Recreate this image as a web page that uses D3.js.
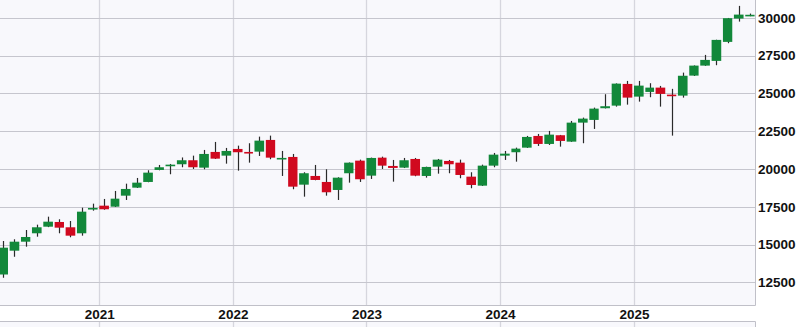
<!DOCTYPE html>
<html><head><meta charset="utf-8">
<script src="https://cdn.jsdelivr.net/npm/d3@7"></script>
<style>html,body{margin:0;padding:0;background:#fff;overflow:hidden}svg{display:block}</style>
</head><body>
<svg id="c" width="804" height="327"></svg>
<script>
const months = ["2020-04","2020-05","2020-06","2020-07","2020-08","2020-09","2020-10","2020-11","2020-12",
"2021-01","2021-02","2021-03","2021-04","2021-05","2021-06","2021-07","2021-08","2021-09","2021-10","2021-11","2021-12",
"2022-01","2022-02","2022-03","2022-04","2022-05","2022-06","2022-07","2022-08","2022-09","2022-10","2022-11","2022-12",
"2023-01","2023-02","2023-03","2023-04","2023-05","2023-06","2023-07","2023-08","2023-09","2023-10","2023-11","2023-12",
"2024-01","2024-02","2024-03","2024-04","2024-05","2024-06","2024-07","2024-08","2024-09","2024-10","2024-11","2024-12",
"2025-01","2025-02","2025-03","2025-04","2025-05","2025-06","2025-07","2025-08","2025-09","2025-10","2025-11"];
const open  = [13016,14592,15187,15743,16180,16491,16140,15743,17380,
17570,17504,18232,18762,19139,19933,20218,20310,20575,20086,21125,20880,
21323,21125,21145,21919,20700,20794,18960,19536,19139,18609,19715,20549,
19556,20747,20198,20086,20661,19536,20152,20529,20416,19490,18894,20218,
20880,21105,21409,22184,21654,22230,21806,23064,23243,24017,24189,25625,
24785,25096,25381,24917,24851,26175,26837,27148,28406,29948,30180];
const high  = [15234,15346,15962,16313,16842,16670,16557,17438,17703,
18014,18543,19026,19404,19913,20264,20330,20760,20880,21257,21787,21390,
21542,21701,22138,22204,21191,20992,19781,20264,19979,19450,20430,20615,
20750,20813,20595,20727,20727,20150,20661,20595,20615,19781,20284,21058,
21191,21409,22184,22316,22515,22250,23176,23395,24057,24944,25660,25824,
25824,25672,25493,25300,26373,26850,27545,28550,29990,30788,30279];
const low   = [12800,14194,14856,15518,16150,15743,15479,15585,17239,
17300,17480,17947,18740,19120,19910,19649,20112,19999,19979,20660,20350,
19887,20416,20860,20642,19536,18656,18166,19250,18232,17947,19093,19139,
19337,19999,19159,20060,19516,19424,19688,19715,19384,18722,18870,20112,
20595,20482,21390,21522,21588,21475,21790,21701,22647,24000,24123,24255,
24454,24745,24123,22204,24719,26150,26820,26863,28319,29749,30107];
const close = [14790,15187,15498,16140,16511,16114,15585,17173,17420,
17332,18034,18676,19093,19755,20112,20284,20575,20112,20992,20681,21191,
21105,21058,21873,20747,20730,18828,19715,19271,18457,19423,20416,19318,
20727,20218,20066,20575,19556,20132,20615,20310,19602,18940,20218,20946,
21012,21343,22118,21654,22270,21853,23064,23329,23991,24149,25645,24719,
25513,25381,24964,24851,26165,26837,27214,28538,29974,30212,30200];
const yTicks = [12500,15000,17500,20000,22500,25000,27500,30000];
const xTickYears = [2021,2022,2023,2024,2025];

const svg = d3.select("#c");
const plotW = 755, plotH = 305.5;
const x = d3.scaleUtc().domain([new Date(Date.UTC(2021,0,1)), new Date(Date.UTC(2025,0,1))]).range([99.3, 634]);
const y = d3.scaleLinear().domain([12500, 30000]).range([282.3, 17.8]);
const parse = d3.utcParse("%Y-%m");
const data = months.map((m,i)=>({d:parse(m), o:open[i], h:high[i], l:low[i], c:close[i]}));

const bg = "#f8f8fc", gridH = "#c6c6ce", gridV = "#d6d6de", border = "#c0c0c8";
// main plot background
svg.append("rect").attr("x",0).attr("y",0).attr("width",plotW).attr("height",plotH).attr("fill",bg);
// bottom panel
svg.append("rect").attr("x",0).attr("y",321.5).attr("width",plotW).attr("height",10).attr("fill",bg);

const clip = svg.append("defs").append("clipPath").attr("id","pc");
clip.append("rect").attr("x",0).attr("y",0).attr("width",plotW).attr("height",plotH);

// vertical grid
const vg = svg.append("g");
xTickYears.forEach(yr=>{
  const xx = Math.round(x(new Date(Date.UTC(yr,0,1))))+0.5;
  vg.append("line").attr("x1",xx).attr("x2",xx).attr("y1",0).attr("y2",plotH).attr("stroke",gridV).attr("stroke-width",1.3);
  vg.append("line").attr("x1",xx).attr("x2",xx).attr("y1",321.5).attr("y2",327).attr("stroke",gridV).attr("stroke-width",1.3);
});
// horizontal grid
const hg = svg.append("g");
yTicks.forEach(t=>{
  const yy = Math.round(y(t))+0.5;
  hg.append("line").attr("x1",0).attr("x2",plotW).attr("y1",yy).attr("y2",yy).attr("stroke",gridH).attr("stroke-width",1);
});

// borders
svg.append("line").attr("x1",plotW+0.5).attr("x2",plotW+0.5).attr("y1",0).attr("y2",plotH).attr("stroke",border);
svg.append("line").attr("x1",0).attr("x2",plotW+0.5).attr("y1",plotH).attr("y2",plotH).attr("stroke",border);
svg.append("line").attr("x1",0).attr("x2",plotW+0.5).attr("y1",321.5).attr("y2",321.5).attr("stroke",border);
svg.append("line").attr("x1",plotW+0.5).attr("x2",plotW+0.5).attr("y1",321.5).attr("y2",327).attr("stroke",border);

// right axis
const ya = svg.append("g").attr("transform",`translate(${plotW},0)`)
  .call(d3.axisRight(y).tickValues(yTicks).tickSize(0).tickPadding(3).tickFormat(d3.format("d")));
ya.select(".domain").remove();
ya.selectAll("text").attr("font-family","Liberation Sans, Arial, sans-serif").attr("font-weight","bold")
  .attr("font-size","13.5px").attr("fill","#111");

// bottom axis
const xa = svg.append("g").attr("transform",`translate(0,${plotH})`)
  .call(d3.axisBottom(x).tickValues(xTickYears.map(yr=>new Date(Date.UTC(yr,0,1)))).tickSize(0).tickPadding(4).tickFormat(d3.utcFormat("%Y")));
xa.select(".domain").remove();
xa.selectAll("text").attr("font-family","Liberation Sans, Arial, sans-serif").attr("font-weight","bold")
  .attr("font-size","13.5px").attr("fill","#111");

// candles
const green = "#12883a", red = "#d0091f";
const cg = svg.append("g").attr("clip-path","url(#pc)");
const candle = cg.selectAll("g.c").data(data).join("g").attr("class","c");
function bw(d){ const n = d3.utcMonth.offset(d.d,1); return (x(n)-x(d.d))*0.85; }
candle.append("line")
  .attr("x1",d=>Math.round(x(d.d)+bw(d)/2)+0.5).attr("x2",d=>Math.round(x(d.d)+bw(d)/2)+0.5)
  .attr("y1",d=>y(d.h)).attr("y2",d=>y(d.l)).attr("stroke","#2a2a2a").attr("stroke-width",1.2);
candle.append("rect")
  .attr("x",d=>x(d.d)).attr("width",d=>bw(d))
  .attr("y",d=>Math.min(y(d.o),y(d.c)))
  .attr("height",d=>Math.max(1.6, Math.abs(y(d.o)-y(d.c))))
  .attr("fill",d=>d.c>=d.o?green:red);
</script>
</body></html>
